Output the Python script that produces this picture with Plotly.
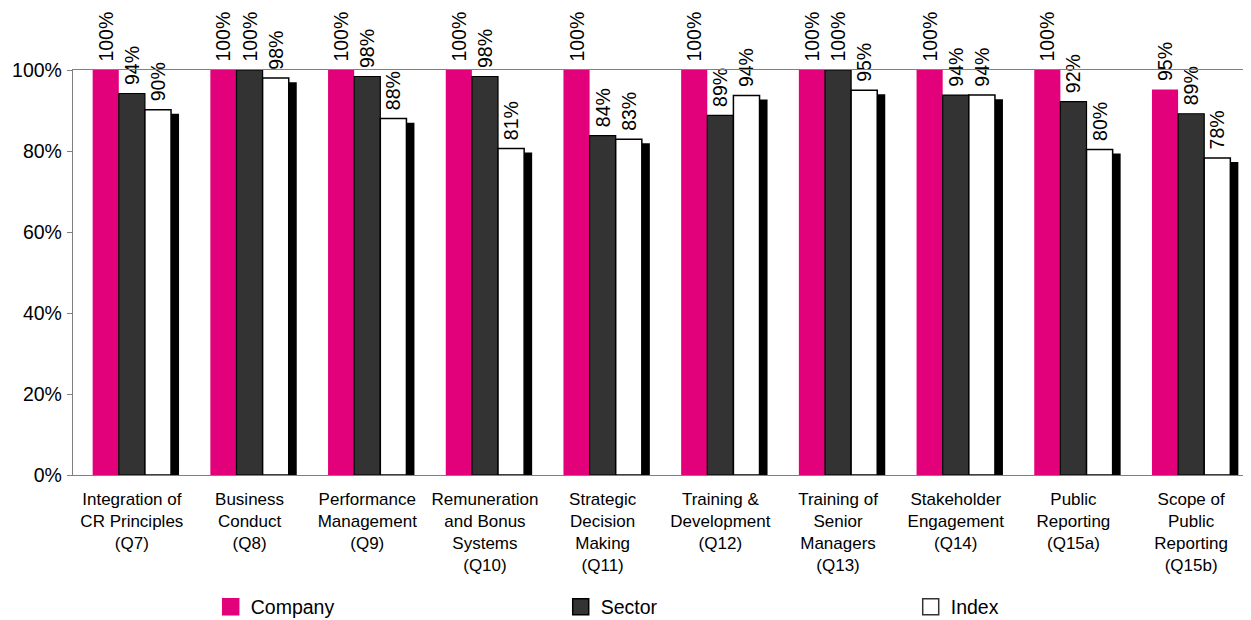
import plotly.graph_objects as go

categories = [
    "Integration of<br>CR Principles<br>(Q7)",
    "Business<br>Conduct<br>(Q8)",
    "Performance<br>Management<br>(Q9)",
    "Remuneration<br>and Bonus<br>Systems<br>(Q10)",
    "Strategic<br>Decision<br>Making<br>(Q11)",
    "Training &<br>Development<br>(Q12)",
    "Training of<br>Senior<br>Managers<br>(Q13)",
    "Stakeholder<br>Engagement<br>(Q14)",
    "Public<br>Reporting<br>(Q15a)",
    "Scope of<br>Public<br>Reporting<br>(Q15b)",
]
company = [100, 100, 100, 100, 100, 100, 100, 100, 100, 95.2]
sector = [94.2, 100, 98.4, 98.4, 83.8, 88.8, 100, 93.8, 92.2, 89.2]
index_vals = [90.2, 98.0, 88.0, 80.6, 82.9, 93.7, 95.0, 93.8, 80.4, 78.3]
y_ticks = [0, 20, 40, 60, 80, 100]
y_tick_labels = ["0%", "20%", "40%", "60%", "80%", "100%"]

FONT = "Liberation Sans, Arial, Helvetica, sans-serif"
PINK = "#E3007B"
DARK = "#333333"

x = list(range(len(categories)))
w = 0.222
label_font = dict(family=FONT, size=19.5, color="#000000")
tmpl = "\u00a0%{y:.0f}%"

fig = go.Figure()

# drop shadow of the Index bars
fig.add_trace(go.Bar(
    x=x, y=index_vals, base=-1, width=0.255, offset=0.146,
    marker=dict(color="#000000", line=dict(width=0)),
    showlegend=False, hoverinfo="skip", cliponaxis=False,
))
fig.add_trace(go.Bar(
    x=x, y=company, name="Company", width=w, offset=-1.5 * w,
    marker=dict(color=PINK, line=dict(width=0)),
    texttemplate=tmpl, textposition="outside", textangle=-90,
    textfont=label_font, constraintext="none", cliponaxis=False,
    showlegend=False,
))
fig.add_trace(go.Bar(
    x=x, y=sector, name="Sector", width=w, offset=-0.5 * w,
    marker=dict(color=DARK, line=dict(width=1.2, color="#000000")),
    texttemplate=tmpl, textposition="outside", textangle=-90,
    textfont=label_font, constraintext="none", cliponaxis=False,
    showlegend=False,
))
fig.add_trace(go.Bar(
    x=x, y=index_vals, name="Index", width=w, offset=0.5 * w,
    marker=dict(color="#FFFFFF", line=dict(width=1.5, color="#000000")),
    texttemplate=tmpl, textposition="outside", textangle=-90,
    textfont=label_font, constraintext="none", cliponaxis=False,
    showlegend=False,
))

# legend entries
for name, col, lc in [("Company", PINK, PINK), ("Sector", DARK, "#000000"), ("Index", "#FFFFFF", "#333333")]:
    fig.add_trace(go.Scatter(
        x=[None], y=[None], mode="markers", name=name,
        marker=dict(symbol="square", size=16, color=col, line=dict(width=1.5, color=lc)),
    ))

fig.update_layout(
    width=1251, height=620,
    margin=dict(l=65, r=9, t=62, b=153, autoexpand=False),
    paper_bgcolor="#FFFFFF", plot_bgcolor="#FFFFFF",
    barmode="overlay",
    font=dict(family=FONT, color="#000000"),
    showlegend=True,
    legend=dict(
        orientation="h", x=0.117, xanchor="left", y=-0.326, yanchor="middle",
        entrywidth=305, entrywidthmode="pixels",
        font=dict(family=FONT, size=19.5, color="#000000"),
        itemsizing="trace", bgcolor="rgba(0,0,0,0)",
    ),
)
fig.update_xaxes(
    tickmode="array", tickvals=x, ticktext=categories,
    range=[-0.5, len(categories) - 0.5],
    showgrid=False, zeroline=False, ticks="", automargin=False,
    ticklabelstandoff=8,
    showline=True, linecolor="#808080", linewidth=1.3, mirror=True,
    tickfont=dict(family=FONT, size=17, color="#000000"),
)
fig.update_yaxes(
    range=[0, 100], tickmode="array", tickvals=y_ticks, ticktext=y_tick_labels,
    showgrid=False, zeroline=False, automargin=False,
    ticklabelstandoff=1,
    ticks="outside", ticklen=5, tickcolor="#808080", tickwidth=1.3,
    showline=True, linecolor="#808080", linewidth=1.3, mirror=True,
    tickfont=dict(family=FONT, size=19.5, color="#000000"),
)

fig.write_html("out.html")
